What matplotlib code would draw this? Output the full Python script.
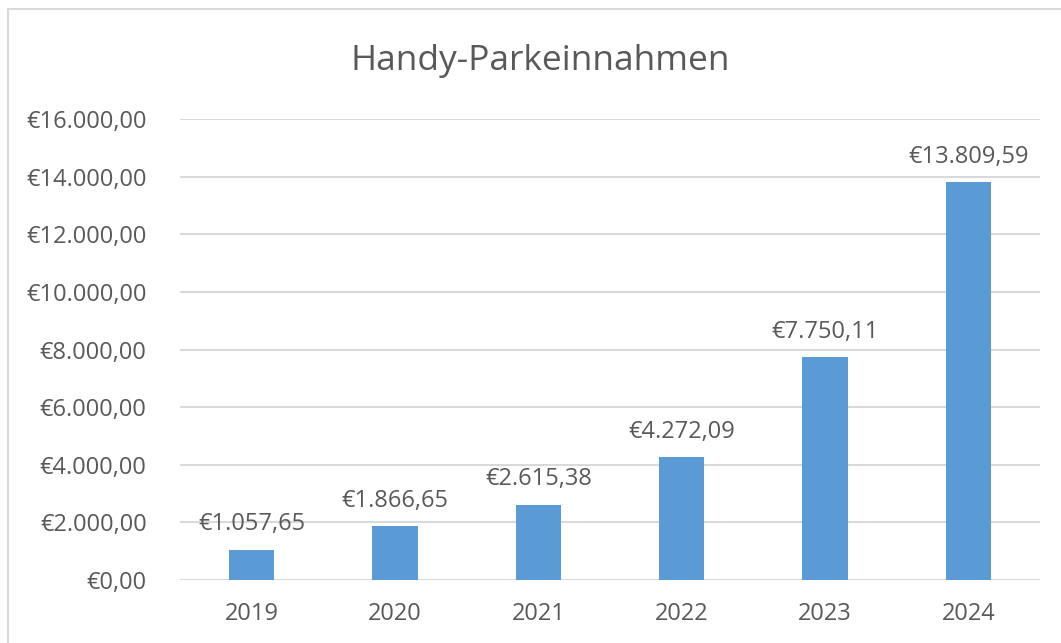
import matplotlib.pyplot as plt
from matplotlib.patches import Rectangle

years = ["2019", "2020", "2021", "2022", "2023", "2024"]
revenue = [1057.65, 1866.65, 2615.38, 4272.09, 7750.11, 13809.59]
y_ticks = [0, 2000, 4000, 6000, 8000, 10000, 12000, 14000, 16000]


def euro(v):
    # german style: thousands with dot, decimals with comma
    s = f"{v:,.2f}".replace(",", "X").replace(".", ",").replace("X", ".")
    return "€" + s


plt.rcParams["font.family"] = ["Open Sans", "DejaVu Sans"]
text_color = "#595959"

W, H = 1061, 643
fig = plt.figure(figsize=(W / 100, H / 100), dpi=100)

# light border around the chart area
fig.patches.append(
    Rectangle((8 / W, -0.05), 1.1, (H - 9) / H + 0.05, transform=fig.transFigure,
              fill=False, edgecolor="#D9D9D9", linewidth=1.5)
)

ax = fig.add_axes([180 / W, (H - 580) / H, 860 / W, (580 - 119) / H])

x = list(range(len(years)))
ax.bar(x, revenue, width=0.315, color="#5B9BD5", zorder=3)
for xi, v in zip(x, revenue):
    ax.annotate(euro(v), (xi, v), xytext=(0, 9.5), textcoords="offset points",
                ha="center", va="bottom", fontsize=17, color=text_color)

ax.set_xlim(-0.5, len(years) - 0.5)
ax.set_ylim(0, 16000)
ax.set_yticks(y_ticks)
ax.set_yticklabels([euro(t) for t in y_ticks])
ax.set_xticks(x)
ax.set_xticklabels(years)
ax.tick_params(axis="both", length=0, labelsize=17, labelcolor=text_color)
ax.tick_params(axis="y", pad=24)
ax.tick_params(axis="x", pad=16)
ax.grid(axis="y", color="#D9D9D9", linewidth=1.5, zorder=0)
for s in ax.spines.values():
    s.set_visible(False)

fig.text(540 / W, 1 - 61 / H, "Handy-Parkeinnahmen", ha="center", va="center",
         fontsize=25.5, color=text_color)

fig.savefig("out.png", dpi=100)
